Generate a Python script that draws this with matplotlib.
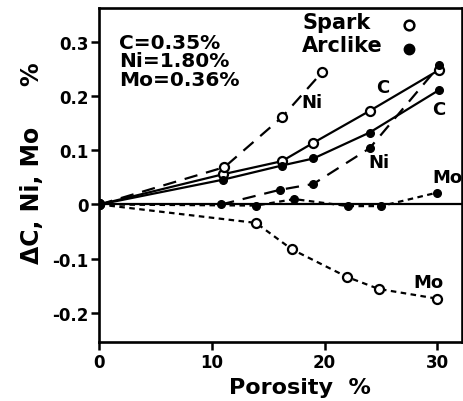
import matplotlib
matplotlib.use('Agg')
import matplotlib.pyplot as plt
from matplotlib.lines import Line2D

plt.rcParams['font.family'] = ['DejaVu Sans']
plt.rcParams['font.weight'] = 'bold'

# data (porosity %, delta %)
spark_c_x = [0, 11.0, 16.2, 19.0, 24.0, 30.2]
spark_c_y = [0, 0.056, 0.080, 0.114, 0.173, 0.249]
arc_c_x = [0, 11.0, 16.2, 19.0, 24.0, 30.2]
arc_c_y = [0, 0.046, 0.072, 0.085, 0.133, 0.212]

spark_ni_x = [0, 11.1, 16.2, 19.8]
spark_ni_y = [0, 0.069, 0.161, 0.245]
arc_ni_x = [10.8, 16.0, 19.0, 24.0, 30.2]
arc_ni_y = [0.0, 0.027, 0.038, 0.104, 0.257]

spark_mo_x = [0, 13.9, 17.1, 22.0, 24.8, 30.0]
spark_mo_y = [0, -0.034, -0.083, -0.134, -0.156, -0.174]
arc_mo_x = [0, 13.9, 17.3, 22.1, 25.0, 30.0]
arc_mo_y = [0, -0.002, 0.010, -0.003, -0.003, 0.022]

x_ticks = [0, 10, 20, 30]
y_ticks = [-0.2, -0.1, 0, 0.1, 0.2, 0.3]
y_tick_labels = ['-0.2', '-0.1', '0', '0.1', '0.2', '0.3']

fig = plt.figure(figsize=(4.64, 4.02), dpi=100)
ax = fig.add_axes([0.2144, 0.1468, 0.7813, 0.8308])
ax.set_xlim(0, 32.2)
ax.set_ylim(-0.254, 0.363)

lw = 1.6
ax.axhline(0, color='black', lw=1.6, zorder=1)

ax.plot(spark_c_x, spark_c_y, '-', color='black', lw=lw,
        marker='o', ms=6.5, mfc='white', mec='black', mew=1.6)
ax.plot(arc_c_x, arc_c_y, '-', color='black', lw=lw,
        marker='o', ms=5.5, mfc='black', mec='black')

ax.plot(spark_ni_x, spark_ni_y, color='black', lw=lw, dashes=(6, 4),
        marker='o', ms=6.5, mfc='white', mec='black', mew=1.6)
ax.plot(arc_ni_x, arc_ni_y, color='black', lw=lw, dashes=(6, 4),
        marker='o', ms=5.5, mfc='black', mec='black')

ax.plot(spark_mo_x, spark_mo_y, color='black', lw=lw, dashes=(2.5, 2),
        marker='o', ms=6.5, mfc='white', mec='black', mew=1.6)
ax.plot(arc_mo_x, arc_mo_y, color='black', lw=lw, dashes=(2.5, 2),
        marker='o', ms=5.5, mfc='black', mec='black')

# curve labels
lab = dict(fontsize=13, fontweight='bold', ha='center', va='center')
ax.text(25.2, 0.217, 'C', **lab)
ax.text(30.1, 0.176, 'C', **lab)
ax.text(18.9, 0.189, 'Ni', **lab)
ax.text(24.8, 0.078, 'Ni', **lab)
ax.text(30.9, 0.050, 'Mo', **lab)
ax.text(29.2, -0.143, 'Mo', **lab)

ax.text(0.055, 0.925, 'C=0.35%\nNi=1.80%\nMo=0.36%', transform=ax.transAxes,
        fontsize=14.5, fontweight='bold', va='top', ha='left', linespacing=0.95)

# legend: left-aligned words, symbols in a column on the right
ax.text(0.559, 0.958, 'Spark', transform=ax.transAxes, fontsize=15,
        fontweight='bold', ha='left', va='center')
ax.text(0.559, 0.888, 'Arclike', transform=ax.transAxes, fontsize=15,
        fontweight='bold', ha='left', va='center')
handles = [Line2D([], [], ls='none', marker='o', ms=7, mfc='white', mec='black', mew=1.8),
           Line2D([], [], ls='none', marker='o', ms=7.5, mfc='black', mec='black')]
ax.legend(handles, ['', ''], loc='center', bbox_to_anchor=(0.853, 0.91),
          frameon=False, handlelength=1.0, handletextpad=0.0, borderpad=0,
          labelspacing=0.25, prop={'size': 14, 'weight': 'bold'})

ax.set_xticks(x_ticks)
ax.set_xticklabels([str(v) for v in x_ticks])
ax.set_yticks(y_ticks)
ax.set_yticklabels(y_tick_labels)
ax.tick_params(axis='both', direction='out', length=6, width=1.8, labelsize=12, pad=2)
for s in ax.spines.values():
    s.set_linewidth(1.9)

fig.text(0.068, 0.515, '\u0394C, Ni, Mo', rotation=90, fontsize=17,
         fontweight='bold', ha='center', va='center')
fig.text(0.068, 0.816, '%', rotation=90, fontsize=17,
         fontweight='bold', ha='center', va='center')
fig.text(0.647, 0.035, 'Porosity  %', fontsize=16, fontweight='bold',
         ha='center', va='center')

fig.savefig('out.png', dpi=100)
